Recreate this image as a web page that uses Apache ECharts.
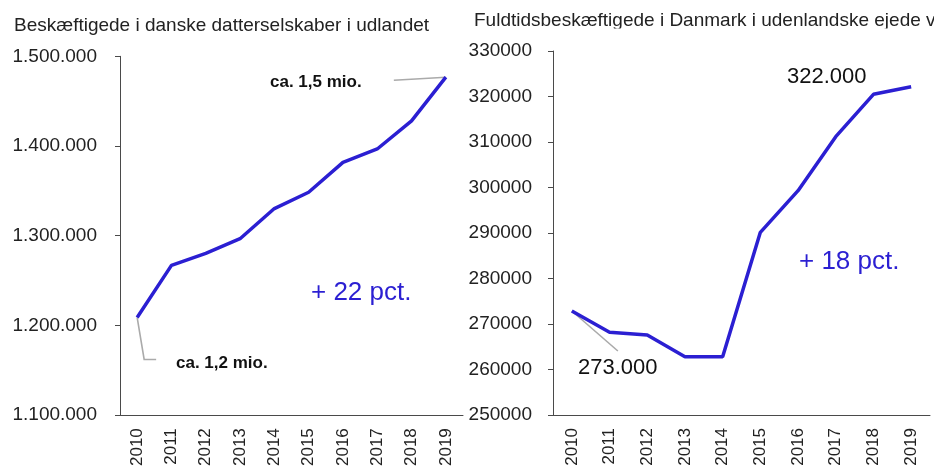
<!DOCTYPE html>
<html>
<head>
<meta charset="utf-8">
<script src="https://cdn.jsdelivr.net/npm/echarts@6/dist/echarts.min.js"></script>
<style>
html,body{margin:0;padding:0;background:#fff;}
#c{width:934px;height:469px;}
</style>
</head>
<body>
<div id="c"></div>
<script>
const years = ['2010','2011','2012','2013','2014','2015','2016','2017','2018','2019'];
const abroadEmployees = [1208900, 1267000, 1280300, 1296700, 1330300, 1348500, 1381800, 1396700, 1428100, 1476700];
const foreignOwnedFTE = [272860, 268170, 267600, 262800, 262800, 290150, 299300, 311170, 320480, 322160];
const leftTitle = 'Beskæftigede i danske datterselskaber i udlandet';
const rightTitle = 'Fuldtidsbeskæftigede i Danmark i udenlandske ejede virksomheder';
const leftStartNote = 'ca. 1,2 mio.';
const leftEndNote = 'ca. 1,5 mio.';
const leftChange = '+ 22 pct.';
const rightStartNote = '273.000';
const rightEndNote = '322.000';
const rightChange = '+ 18 pct.';

const FONT = '"Liberation Sans", Arial, sans-serif';
const BLUE = '#2b1fd2';
const AXIS = '#4a4a4a';
const TXT = '#222';

function dotted(v){ return String(v).replace(/\B(?=(\d{3})+(?!\d))/g,'.'); }
function plain(v){ return String(v); }

const chart = echarts.init(document.getElementById('c'), null, {renderer:'canvas'});

const xAxisBase = {
  type:'category', data: years, boundaryGap:true,
  axisLine:{lineStyle:{color:AXIS,width:1}},
  axisTick:{alignWithLabel:false, length:6, lineStyle:{color:AXIS}},
  axisLabel:{rotate:90, margin:13, fontSize:17, color:TXT, fontFamily:FONT}
};
const yAxisBase = {
  type:'value', splitLine:{show:false},
  axisLine:{show:true, lineStyle:{color:AXIS,width:1}},
  axisTick:{show:true, length:5, lineStyle:{color:AXIS}},
};

chart.setOption({
  animation:false,
  textStyle:{fontFamily:FONT},
  grid:[
    {left:120, right:471, top:56.3, bottom:52.3},
    {left:553, right:4, top:51, bottom:54}
  ],
  xAxis:[
    Object.assign({gridIndex:0}, xAxisBase),
    Object.assign({gridIndex:1}, xAxisBase)
  ],
  yAxis:[
    Object.assign({gridIndex:0, min:1100000, max:1500000, interval:100000,
      axisLabel:{margin:23, fontSize:19, color:TXT, fontFamily:FONT, formatter:dotted}}, yAxisBase),
    Object.assign({gridIndex:1, min:250000, max:330000, interval:10000,
      axisLabel:{margin:21, fontSize:19, color:TXT, fontFamily:FONT, formatter:plain}}, yAxisBase)
  ],
  series:[
    {type:'line', xAxisIndex:0, yAxisIndex:0, data:abroadEmployees, symbol:'none',
     lineStyle:{color:BLUE,width:3.5}, z:3},
    {type:'line', xAxisIndex:1, yAxisIndex:1, data:foreignOwnedFTE, symbol:'none',
     lineStyle:{color:BLUE,width:3.5}, z:3}
  ]
});

const pL0 = chart.convertToPixel({seriesIndex:0}, [0, abroadEmployees[0]]);
const pL9 = chart.convertToPixel({seriesIndex:0}, [9, abroadEmployees[9]]);
const pR0 = chart.convertToPixel({seriesIndex:1}, [0, foreignOwnedFTE[0]]);
const LEAD = {stroke:'#aaaaaa', lineWidth:1.6};

chart.setOption({
  graphic:[
    {type:'text', left:14, top:16, style:{text:leftTitle, fontSize:19, fill:TXT, fontFamily:FONT}},
    {type:'text', left:474, top:11, style:{text:rightTitle, fontSize:19, fill:TXT, fontFamily:FONT}},
    {type:'rect', shape:{x:462, y:28.5, width:472, height:6}, style:{fill:'#fff'}, z:10},
    {type:'polyline', shape:{points:[[pL9[0],pL9[1]],[pL9[0]-52,pL9[1]+3]]}, style:LEAD, z:2},
    {type:'text', x:270, y:82, style:{text:leftEndNote, fontSize:17, fontWeight:'bold', fill:'#111', fontFamily:FONT, verticalAlign:'middle'}},
    {type:'polyline', shape:{points:[[pL0[0],pL0[1]],[pL0[0]+7,pL0[1]+42],[pL0[0]+19,pL0[1]+42]]}, style:LEAD, z:2},
    {type:'text', x:176, y:363, style:{text:leftStartNote, fontSize:17, fontWeight:'bold', fill:'#111', fontFamily:FONT, verticalAlign:'middle'}},
    {type:'text', x:311, y:293, style:{text:leftChange, fontSize:26, fill:BLUE, fontFamily:FONT, verticalAlign:'middle'}},
    {type:'polyline', shape:{points:[[pR0[0],pR0[1]],[pR0[0]+46,pR0[1]+40]]}, style:LEAD, z:2},
    {type:'text', x:578, y:368, style:{text:rightStartNote, fontSize:22, fill:'#111', fontFamily:FONT, verticalAlign:'middle'}},
    {type:'text', x:787, y:77, style:{text:rightEndNote, fontSize:22, fill:'#111', fontFamily:FONT, verticalAlign:'middle'}},
    {type:'text', x:799, y:262, style:{text:rightChange, fontSize:26, fill:BLUE, fontFamily:FONT, verticalAlign:'middle'}}
  ]
});
</script>
</body>
</html>
